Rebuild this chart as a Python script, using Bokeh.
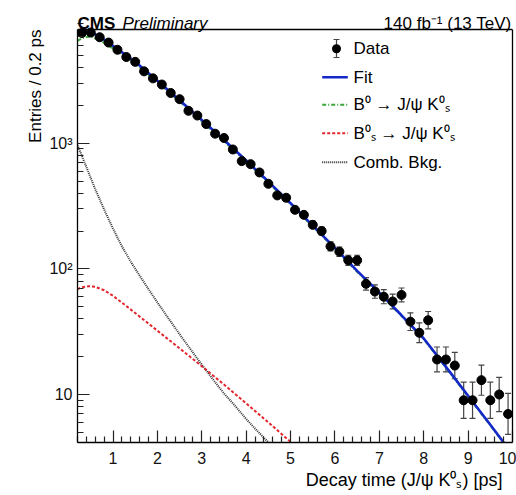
import numpy as np
from bokeh.plotting import figure
from bokeh.models import (Range1d, FixedTicker, Label, Whisker, TeeHead, ColumnDataSource,
                          Arrow, BoxAnnotation, Title, Span, LogAxis)
from bokeh.embed import file_html
from bokeh.resources import INLINE

# ---- data ----
bin_centers = [0.3, 0.5, 0.7, 0.9, 1.1, 1.3, 1.5, 1.7, 1.9, 2.1, 2.3, 2.5, 2.7, 2.9,
               3.1, 3.3, 3.5, 3.7, 3.9, 4.1, 4.3, 4.5, 4.7, 4.9, 5.1, 5.3, 5.5, 5.7,
               5.9, 6.1, 6.3, 6.5, 6.7, 6.9, 7.1, 7.3, 7.5, 7.7, 7.9, 8.1, 8.3, 8.5,
               8.7, 8.9, 9.1, 9.3, 9.5, 9.7, 9.9]
counts = [7530, 7600, 6970, 6320, 5540, 4850, 4440, 3730, 3280, 2930, 2510, 2240, 1810, 1660,
          1420, 1190, 1100, 891, 720, 681, 585, 475, 384, 368, 295, 269, 224, 200,
          151, 137, 117, 117, 76, 66, 60, 55, 62, 38, 31, 39, 19, 19,
          17, 9, 9, 13, 9, 10, 7]

fit_t = [0.2, 0.3, 0.4, 0.5, 0.7, 1.0, 1.5, 2.0, 2.5, 3.0, 3.5, 4.0, 4.5, 5.0, 5.5,
         6.0, 6.5, 7.0, 7.5, 8.0, 8.5, 9.0, 9.5, 10.0]
fit_y = [7551, 7691, 7727, 7656, 7050, 5950, 4446, 3141, 2198, 1531, 1059, 728, 495, 333, 221,
         147, 96.4, 64.6, 42.7, 27.9, 16.6, 9.77, 5.75, 3.35]
b0_y = [6517, 6826, 7009, 7048, 6623, 5682, 4303, 3055, 2145, 1498, 1037, 713, 485, 326, 217,
        144, 94.6, 63.4, 42.2, 27.6, 16.4, 9.65, 5.68, 3.31]

bs_t = [0.2, 0.3, 0.45, 0.6, 0.8, 1.0, 1.25, 1.5, 2.0, 2.5, 3.0, 3.5, 4.0, 4.5, 5.0]
bs_y = [68.9, 71.3, 72.8, 71.9, 67.6, 61.0, 52.2, 44.5, 32.2, 23.3, 16.8, 12.0, 8.51, 6.0, 4.2]

comb_t = [0.2, 0.4, 0.6, 0.8, 1.0, 1.2, 1.4, 1.6, 1.8, 2.0, 2.25, 2.5, 2.75, 3.0, 3.25,
          3.5, 3.75, 4.0, 4.25, 4.5, 5.0]
comb_y = [966, 646, 430, 297, 209, 151, 114, 88.3, 68.9, 54.0, 40.3, 30.2, 22.8, 17.3, 13.2,
          10.2, 8.13, 6.38, 5.13, 4.17, 2.69]

x_major = [1, 2, 3, 4, 5, 6, 7, 8, 9, 10]
y_major = [10, 100, 1000]
y_major_labels = ["10", "10\u00b2", "10\u00b3"]

FONT = "Liberation Sans"

# axis extent of the drawn frame
X_LO, X_HI = 0.2, 10.0
Y_LO, Y_HI = 4.15, 8030.0

# layout (pixels)
W, H = 516, 495
LEFT, RIGHT, BOTTOM = 77, 4, 53
BOX_TOP = 29                       # frame box top edge, from canvas top
frame_h = H - BOTTOM               # plotting frame reaches the canvas top (room for header)
ppd = (frame_h - BOX_TOP) / np.log10(Y_HI / Y_LO)
y_top_extended = 10 ** (np.log10(Y_LO) + frame_h / ppd)

# Poisson-style asymmetric error bars
n = np.array(counts, dtype=float)
lo = n - (np.sqrt(n + 0.25) - 0.5)
hi = n + (np.sqrt(n + 0.25) + 0.5)
src = ColumnDataSource(dict(t=bin_centers, n=counts, lo=lo, hi=hi))

p = figure(width=W, height=H, output_backend="svg", toolbar_location=None,
           y_axis_type="log", x_range=Range1d(X_LO, X_HI),
           y_range=Range1d(Y_LO, y_top_extended),
           min_border_left=LEFT, min_border_right=RIGHT, min_border_top=0,
           min_border_bottom=BOTTOM)
p.background_fill_color = "white"
p.border_fill_color = "white"
p.grid.visible = False
p.outline_line_color = None

minor_x = [v for v in np.round(np.arange(0.2, 10.001, 0.2), 1) if abs(v - round(v)) > 1e-6]
p.xaxis.ticker = FixedTicker(ticks=x_major, minor_ticks=minor_x)
minor_y = [m * d for d in (1, 10, 100, 1000) for m in range(2, 10)]
p.yaxis.ticker = FixedTicker(ticks=y_major, minor_ticks=minor_y)
p.yaxis.major_label_overrides = {v: s for v, s in zip(y_major, y_major_labels)}
p.yaxis.bounds = (Y_LO, Y_HI)

for ax in (p.xaxis, p.yaxis):
    ax.major_tick_in = 12
    ax.major_tick_out = 0
    ax.minor_tick_in = 6
    ax.minor_tick_out = 0
    ax.axis_line_color = "black"
    ax.axis_line_width = 1.3
    ax.major_tick_line_color = "#222222"
    ax.minor_tick_line_color = "#222222"
    ax.major_tick_line_width = 1.2
    ax.minor_tick_line_width = 1.2
    ax.major_label_text_font = FONT
    ax.major_label_text_font_size = "16px"
    ax.major_label_text_color = "#111111"
p.xaxis.major_label_standoff = 9
p.yaxis.major_label_standoff = 5

# right edge of the frame box (axis without ticks) and top edge
right_ax = LogAxis(ticker=FixedTicker(ticks=[], minor_ticks=[]), bounds=(Y_LO, Y_HI),
                   axis_line_color="black", axis_line_width=1.3,
                   major_tick_line_color=None, minor_tick_line_color=None,
                   major_label_text_font_size="0px", major_tick_out=0, minor_tick_out=0,
                   major_label_standoff=0)
p.add_layout(right_ax, "right")
p.add_layout(Span(location=Y_HI, dimension="width", line_color="black", line_width=1.3))

# axis titles (right / top aligned like ROOT)
p.add_layout(Title(text="Entries / 0.2 ps", align="right", offset=BOX_TOP,
                   text_font=FONT, text_font_size="17px", text_font_style="normal",
                   text_color="black", standoff=4), "left")
p.add_layout(Title(text="Decay time (J/\u03c8 K\u2070\u209b) [ps]", align="right", offset=10,
                   text_font=FONT, text_font_size="18px", text_font_style="normal",
                   text_color="black", standoff=3), "below")

# curves
p.line(comb_t, comb_y, line_color="#333333", line_width=2, line_dash="1 1")
p.line(bs_t, bs_y, line_color="#e3262e", line_width=2, line_dash="3 2")
p.line(fit_t, b0_y, line_color="#3aa83a", line_width=2, line_dash="4 2 1 2")
p.line(fit_t, fit_y, line_color="#1428c8", line_width=2.6)

# data
p.add_layout(Whisker(base="t", lower="lo", upper="hi", source=src, dimension="height",
                     line_color="#444444", line_width=1.2,
                     upper_head=TeeHead(size=6, line_color="#444444", line_width=1.2),
                     lower_head=TeeHead(size=6, line_color="#444444", line_width=1.2)))
p.scatter("t", "n", source=src, size=9, fill_color="black", line_color="black")

# texts (screen units relative to frame bottom-left, y up)
def lab(text, x, y, size="17px", style="normal", align="left", baseline="alphabetic"):
    p.add_layout(Label(x=x, y=y, x_units="screen", y_units="screen", text=text,
                       text_font=FONT, text_font_size=size, text_font_style=style,
                       text_align=align, text_baseline=baseline, text_color="black"))

head_y = frame_h - 23
lab("CMS", 0, head_y, style="bold")
lab("Preliminary", 45, head_y, style="italic")
lab("140 fb\u207b\u00b9 (13 TeV)", W - LEFT - RIGHT - 1, head_y, align="right")

# legend (positions from top of canvas converted to frame coordinates)
def fy(y_from_top):
    return frame_h - y_from_top

legend_rows = [("Data", 48.3), ("Fit", 76.7), ("B\u2070 \u2192 J/\u03c8 K\u2070\u209b", 104.3),
               ("B\u2070\u209b \u2192 J/\u03c8 K\u2070\u209b", 132.7), ("Comb. Bkg.", 161.7)]
for txt, yy in legend_rows:
    lab(txt, 276, fy(yy), baseline="middle")

p.add_layout(Arrow(x_start=259, y_start=fy(57), x_end=259, y_end=fy(39), start_units="screen",
                   end_units="screen", line_color="#444444", line_width=1.2,
                   start=TeeHead(size=6, line_color="#444444", line_width=1.2),
                   end=TeeHead(size=6, line_color="#444444", line_width=1.2)))
p.add_layout(BoxAnnotation(left=254.5, right=263.5, bottom=fy(52.8), top=fy(43.8),
                           left_units="screen", right_units="screen",
                           top_units="screen", bottom_units="screen",
                           border_radius=5, fill_color="black", fill_alpha=1.0,
                           line_color=None))
styles = [(76.7, "#1428c8", 2.6, "solid"), (104.3, "#3aa83a", 2, "4 2 1 2"),
          (132.7, "#e3262e", 2, "3 2"), (161.7, "#333333", 2, "1 1")]
for yy, col, w, dash in styles:
    p.add_layout(Arrow(x_start=244.7, y_start=fy(yy), x_end=270.3, y_end=fy(yy),
                       start_units="screen", end_units="screen", end=None, line_color=col,
                       line_width=w, line_dash=dash))

open("out.html", "w").write(file_html(p, INLINE))
